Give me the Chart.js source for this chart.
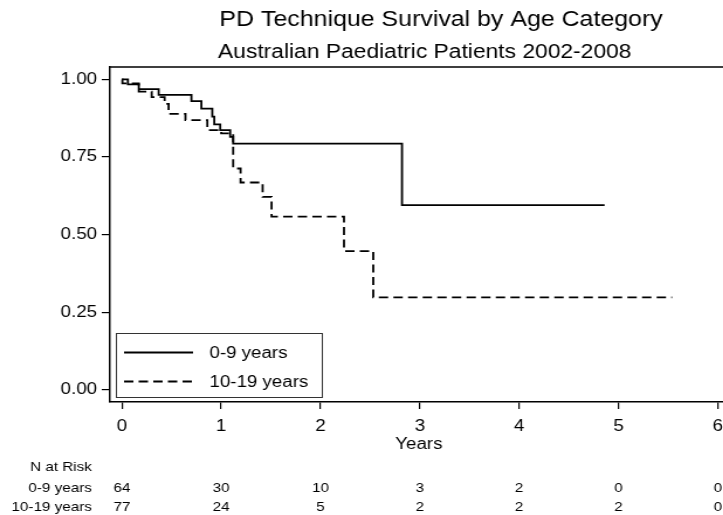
<!DOCTYPE html>
<html>
<head>
<meta charset="utf-8">
<script src="https://cdn.jsdelivr.net/npm/chart.js@4.4.1/dist/chart.umd.min.js"></script>
<style>
  html, body { margin: 0; padding: 0; background: #fff; overflow: hidden; }
  /* the original graph is drawn a bit wide, so stretch the canvas sideways */
  #wrap { width: 640px; height: 515px; transform: scaleX(1.17); transform-origin: 0 0; }
</style>
</head>
<body>
<div id="wrap"><canvas id="km" width="640" height="515"></canvas></div>
<script>
// Kaplan-Meier steps (years, survival)
var timesYoung = [0, 0.06, 0.17, 0.37, 0.70, 0.80, 0.91, 0.93, 0.99, 1.09, 1.12, 2.82, 4.86];
var survYoung  = [1.0, 0.984, 0.969, 0.95, 0.93, 0.906, 0.88, 0.855, 0.837, 0.815, 0.793, 0.595, 0.595];

var timesOld = [0, 0.005, 0.17, 0.30, 0.43, 0.47, 0.64, 0.86, 1.0, 1.12, 1.195, 1.417, 1.507, 2.236, 2.531, 5.54];
var survOld  = [1.0, 0.987, 0.961, 0.943, 0.921, 0.889, 0.869, 0.837, 0.826, 0.713, 0.668, 0.622, 0.558, 0.447, 0.298, 0.298];

var groupLabels = ['0-9 years', '10-19 years'];
var xTicks = [0, 1, 2, 3, 4, 5, 6];
var yTicks = [0, 0.25, 0.5, 0.75, 1];

// numbers at risk under each year tick
var riskYoung = [64, 30, 10, 3, 2, 0, 0];
var riskOld   = [77, 24, 5, 2, 2, 2, 0];

var titleText = 'PD Technique Survival by Age Category';
var subtitleText = 'Australian Paediatric Patients 2002-2008';

Chart.defaults.font.family = '"Liberation Sans", Arial, Helvetica, sans-serif';
Chart.defaults.color = '#000';

function toPoints(ts, ss){
	return ts.map(function(t, i){ return {x: t, y: ss[i]}; });
}

var extras = {
	id: 'extras',
	afterDraw: function(chart){
		var ctx = chart.ctx;
		var a = chart.chartArea;
		var xs = chart.scales.x;
		var ds = chart.data.datasets;
		ctx.save();

		// rest of the plot frame
		ctx.strokeStyle = '#000';
		ctx.lineWidth = 1.5;
		ctx.beginPath();
		ctx.moveTo(a.left, a.top);
		ctx.lineTo(a.right, a.top);
		ctx.lineTo(a.right, a.bottom);
		ctx.stroke();

		// titles
		ctx.fillStyle = '#000';
		ctx.textAlign = 'center';
		ctx.textBaseline = 'alphabetic';
		ctx.font = '21.3px "Liberation Sans", Arial, sans-serif';
		ctx.fillText(titleText, 377, 26);
		ctx.font = '19.5px "Liberation Sans", Arial, sans-serif';
		ctx.fillText(subtitleText, 363, 58);

		// legend box
		ctx.strokeStyle = '#333';
		ctx.lineWidth = 1;
		ctx.strokeRect(99.5, 333.5, 176, 64);
		var rowY = [352.5, 381.5];
		ctx.font = '16px "Liberation Sans", Arial, sans-serif';
		ctx.textAlign = 'left';
		ctx.textBaseline = 'middle';
		for (var i = 0; i < ds.length; i++){
			ctx.strokeStyle = ds[i].borderColor;
			ctx.lineWidth = ds[i].borderWidth;
			ctx.setLineDash(ds[i].borderDash || []);
			ctx.beginPath();
			ctx.moveTo(106, rowY[i]);
			ctx.lineTo(165, rowY[i]);
			ctx.stroke();
			ctx.setLineDash([]);
			ctx.fillText(ds[i].label, 179, rowY[i] + 1);
		}

		// number at risk table
		ctx.font = '13px "Liberation Sans", Arial, sans-serif';
		ctx.textAlign = 'right';
		ctx.fillText('N at Risk', 78.5, 467);
		var rows = [riskYoung, riskOld];
		var tableY = [488.5, 507];
		for (var r = 0; r < rows.length; r++){
			ctx.textAlign = 'right';
			ctx.fillText(groupLabels[r], 78.5, tableY[r]);
			ctx.textAlign = 'center';
			for (var k = 0; k < xTicks.length; k++){
				ctx.fillText(String(rows[r][k]), xs.getPixelForValue(xTicks[k]), tableY[r]);
			}
		}
		ctx.restore();
	}
};

new Chart(document.getElementById('km'), {
	type: 'line',
	data: {
		datasets: [
			{
				label: groupLabels[0],
				data: toPoints(timesYoung, survYoung),
				borderColor: '#000',
				borderWidth: 1.8,
				stepped: 'before',
				pointRadius: 0,
				fill: false
			},
			{
				label: groupLabels[1],
				data: toPoints(timesOld, survOld),
				borderColor: '#000',
				borderWidth: 1.8,
				borderDash: [8, 4.5],
				stepped: 'before',
				pointRadius: 0,
				fill: false
			}
		]
	},
	options: {
		responsive: false,
		animation: false,
		devicePixelRatio: 1,
		layout: { padding: { left: 34, top: 67, right: 18, bottom: 61 } },
		plugins: {
			legend: { display: false },
			title: { display: false },
			tooltip: { enabled: false }
		},
		scales: {
			x: {
				type: 'linear',
				min: -0.12,
				max: 6.1,
				afterBuildTicks: function(s){ s.ticks = xTicks.map(function(v){ return {value: v}; }); },
				afterFit: function(s){ s.height = 52; s.paddingLeft = 0; s.paddingRight = 0; },
				grid: { drawOnChartArea: false, tickLength: 7, color: '#000', lineWidth: 1.2 },
				border: { color: '#000', width: 1.5 },
				ticks: { color: '#000', font: { size: 16 }, padding: 8, maxRotation: 0, autoSkip: false },
				title: { display: true, text: 'Years', color: '#000', font: { size: 16 }, padding: 0 }
			},
			y: {
				type: 'linear',
				min: -0.039,
				max: 1.04,
				afterBuildTicks: function(s){ s.ticks = yTicks.map(function(v){ return {value: v}; }); },
				afterFit: function(s){ s.width = 60; s.paddingTop = 0; s.paddingBottom = 0; },
				grid: { drawOnChartArea: false, tickLength: 7, color: '#000', lineWidth: 1.2 },
				border: { color: '#000', width: 1.5 },
				ticks: {
					color: '#000',
					font: { size: 16 },
					padding: 4,
					callback: function(v){ return Number(v).toFixed(2); }
				}
			}
		}
	},
	plugins: [extras]
});
</script>
</body>
</html>
